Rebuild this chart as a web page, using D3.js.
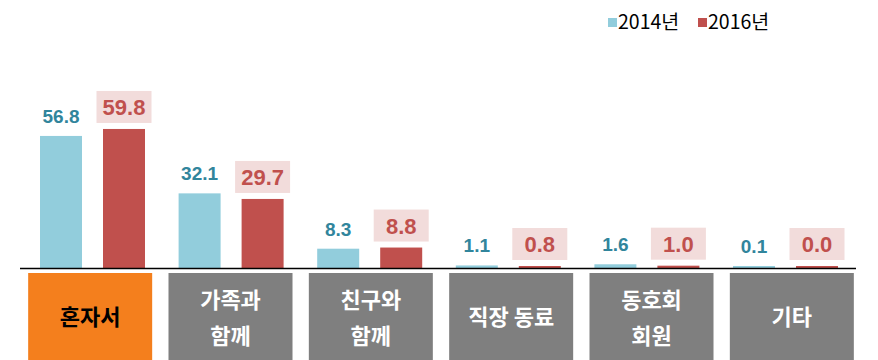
<!DOCTYPE html>
<html><head><meta charset="utf-8">
<script src="https://cdn.jsdelivr.net/npm/d3@7"></script>
<style>body{margin:0;background:#fff;}svg{display:block;}</style>
</head><body>
<script>
const categories = ["혼자서", "가족과\n함께", "친구와\n함께", "직장 동료", "동호회\n회원", "기타"];
const seriesNames = ["2014년", "2016년"];
const values2014 = [56.8, 32.1, 8.3, 1.1, 1.6, 0.1];
const values2016 = [59.8, 29.7, 8.8, 0.8, 1.0, 0.0];
const highlightIndex = 0;

const W = 878, H = 360;
const colors = ["#92cddc", "#c0504d"];
const svg = d3.select("body").append("svg").attr("width", W).attr("height", H);

const x0 = d3.scaleBand().domain(d3.range(categories.length)).range([20, 851.6]).padding(0);
const xBox = d3.scaleBand().domain(d3.range(categories.length)).range([20, 862]).padding(0);
const x1 = d3.scaleBand().domain(seriesNames).range([0, 105]).paddingInner(1/3).paddingOuter(0);
const y = d3.scaleLinear().domain([0, 60]).range([268, 128.5]);

const data = categories.map((c, i) => ({i, c, vals: [values2014[i], values2016[i]]}));

const g = svg.selectAll("g.grp").data(data).join("g").attr("class", "grp")
  .attr("transform", d => `translate(${x0(d.i) + 20},0)`);

g.selectAll("rect.bar").data(d => d.vals.map((v, k) => ({v, k})))
  .join("rect").attr("class", "bar")
  .attr("x", d => x1(seriesNames[d.k]))
  .attr("width", x1.bandwidth())
  .attr("y", d => Math.min(y(d.v), y(0) - 2))
  .attr("height", d => Math.max(y(0) - y(d.v), 2))
  .attr("fill", d => colors[d.k]);

// 2014 labels
g.append("text")
  .attr("x", d => x1(seriesNames[0]) + x1.bandwidth() / 2)
  .attr("y", d => Math.min(y(d.vals[0]), y(0) - 2) - 13)
  .attr("text-anchor", "middle")
  .attr("font-family", "Liberation Sans, Arial, sans-serif")
  .attr("font-weight", "bold").attr("font-size", 19)
  .attr("fill", "#31859c")
  .text(d => d.vals[0].toFixed(1));

// 2016 labels with boxes
const lab = g.append("g").attr("transform", d =>
  `translate(${x1(seriesNames[1]) + x1.bandwidth() / 2},${Math.min(y(d.vals[1]), y(0) - 2) - 6})`);
lab.append("rect").attr("x", -27.5).attr("y", -32).attr("width", 55).attr("height", 32).attr("fill", "#f2dcdb");
lab.append("text").attr("x", 0).attr("y", -8)
  .attr("text-anchor", "middle")
  .attr("font-family", "Liberation Sans, Arial, sans-serif")
  .attr("font-weight", "bold").attr("font-size", 22)
  .attr("fill", "#c0504d")
  .text(d => d.vals[1].toFixed(1));

// baseline
svg.append("line").attr("x1", 20).attr("x2", 856).attr("y1", y(0) + 0.5).attr("y2", y(0) + 0.5)
  .attr("stroke", "#000").attr("stroke-width", 1.5);

// category boxes
const cb = svg.selectAll("g.cat").data(data).join("g").attr("class", "cat")
  .attr("transform", d => `translate(${xBox(d.i) + xBox.bandwidth() / 2},0)`);
cb.append("rect").attr("x", -62).attr("width", 124).attr("y", 273).attr("height", 87)
  .attr("fill", d => d.i === highlightIndex ? "#f47f1d" : "#7f7f7f");
cb.each(function(d) {
  const lines = d.c.split("\n");
  const t = d3.select(this).append("text")
    .attr("text-anchor", "middle")
    .attr("font-family", "Noto Sans CJK KR, sans-serif")
    .attr("font-weight", "bold").attr("font-size", 22)
    .attr("fill", d.i === highlightIndex ? "#000" : "#fff");
  const centers = lines.length === 1 ? [317] : [300, 336];
  lines.forEach((l, k) => t.append("tspan").attr("x", 0).attr("y", centers[k]).attr("dy", "0.36em").text(l));
});

// legend
const legX = [608, 698];
const lg = svg.selectAll("g.leg").data(seriesNames).join("g").attr("class", "leg")
  .attr("transform", (d, i) => `translate(${legX[i]},0)`);
lg.append("rect").attr("x", 0).attr("y", 18).attr("width", 9).attr("height", 9).attr("fill", (d, i) => colors[i]);
lg.append("text").attr("x", 10).attr("y", 22).attr("dy", "0.36em")
  .attr("font-family", "Noto Sans CJK KR, sans-serif").attr("font-size", 19.5).attr("fill", "#000")
  .text(d => d);
</script>
</body></html>
